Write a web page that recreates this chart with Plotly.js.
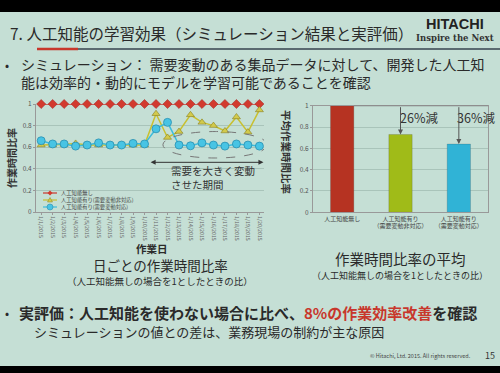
<!DOCTYPE html>
<html><head><meta charset="utf-8">
<script src="https://cdn.plot.ly/plotly-3.0.1.min.js"></script>
<style>html,body{margin:0;padding:0;background:#000}#chart{width:500px;height:373px}</style>
</head><body><div id="chart"></div>
<script>
// ---- data ----
const dates = ['1/1/2015','1/2/2015','1/3/2015','1/4/2015','1/5/2015','1/6/2015','1/7/2015','1/8/2015','1/9/2015','1/10/2015',
  '1/11/2015','1/12/2015','1/13/2015','1/14/2015','1/15/2015','1/16/2015','1/17/2015','1/18/2015','1/19/2015','1/20/2015'];
const seriesNames = ['人工知能無し','人工知能有り(需要変動非対応)','人工知能有り(需要変動対応)'];
const noAI = [1,1,1,1,1,1,1,1,1,1,1,1,1,1,1,1,1,1,1,1];
const aiNonAdaptive = [0.62,0.62,0.625,0.635,0.62,0.62,0.62,0.62,0.62,0.62,0.91,0.69,0.745,0.90,0.83,0.80,0.75,0.88,0.74,0.945];
const aiAdaptive = [0.66,0.63,0.63,0.61,0.62,0.64,0.62,0.62,0.635,0.63,0.77,0.83,0.62,0.613,0.64,0.62,0.61,0.63,0.62,0.61];
const barCats = ['人工知能無し','人工知能有り<br>（需要変動非対応）','人工知能有り<br>（需要変動対応）'];
const barVals = [1.0, 0.73, 0.64];
const reductionLabels = ['26%減','36%減'];
const yTicks = [0,0.2,0.4,0.6,0.8,1];
const yTickText = ['0','0.2','0.4','0.6','0.8','1'];

// ---- helpers ----
const W = 500, H = 373;
const px = x => x / W;
const py = y => (H - y) / H;
const FONT = '"Noto Sans CJK JP", "Noto Sans", sans-serif';
const BG = '#c5dfd5';

const traces = [
  {x: dates, y: noAI, name: seriesNames[0], type: 'scatter', mode: 'lines+markers', xaxis: 'x', yaxis: 'y',
   line: {color: '#c8382e', width: 1.5}, marker: {symbol: 'diamond', size: 7, color: '#d23a2e', line: {color: '#a02020', width: 0.5}}, cliponaxis: false},
  {x: dates, y: aiNonAdaptive, name: seriesNames[1], type: 'scatter', mode: 'lines+markers', xaxis: 'x', yaxis: 'y',
   line: {color: '#c8c030', width: 1.5}, marker: {symbol: 'triangle-up', size: 7, color: '#d2ca4c', line: {color: '#8a8020', width: 0.6}}, cliponaxis: false},
  {x: dates, y: aiAdaptive, name: seriesNames[2], type: 'scatter', mode: 'lines+markers', xaxis: 'x', yaxis: 'y',
   line: {color: '#3cbcdc', width: 1.5}, marker: {symbol: 'circle', size: 8, color: '#48c4e4', line: {color: '#2a8fb0', width: 0.8}}, cliponaxis: false},
  {x: barCats, y: barVals, type: 'bar', xaxis: 'x2', yaxis: 'y2', width: 0.4, showlegend: false,
   marker: {color: ['#b63322', '#a0bb18', '#30b3d6'], line: {color: 'rgba(60,60,60,0.4)', width: 0.5}}}
];

const annotations = [];
function A(text, x, y, size, o) {
  annotations.push(Object.assign({text: text, x: px(x), y: py(y), xref: 'paper', yref: 'paper', showarrow: false,
    xanchor: 'left', yanchor: 'middle', borderpad: 0, font: {family: FONT, size: size, color: '#2a2a2a'}}, o || {}));
}
// header
A('7. 人工知能の学習効果（シミュレーション結果と実評価）', 9, 33, 15.5);
A('<b>HITACHI</b>', 455, 24, 14, {xanchor: 'center', font: {family: '"Liberation Sans", Arial, sans-serif', size: 14.5, color: '#222'}});
A('<b>Inspire the Next</b>', 455, 38, 9, {xanchor: 'center', font: {family: '"DejaVu Serif", serif', size: 8.5, color: '#333'}});
// bullets
A('•', 4, 64, 12);
A('シミュレーション： 需要変動のある集品データに対して、開発した人工知', 20, 64, 14);
A('能は効率的・動的にモデルを学習可能であることを確認', 20, 82, 14);
// left chart labels
A('<b>作業時間比率</b>', 12, 158, 10, {xanchor: 'center', textangle: -90, font: {family: FONT, size: 10, color: '#333'}});
A('<b>作業日</b>', 152, 248, 10.5, {xanchor: 'center'});
A('日ごとの作業時間比率', 160, 265, 13.5, {xanchor: 'center'});
A('（人工知能無しの場合を1としたときの比）', 160, 281, 9.5, {xanchor: 'center'});
A('需要を大きく変動<br>させた期間', 170, 177, 10.5, {align: 'left', font: {family: FONT, size: 10.5, color: '#333'}});
// legend (manual)
const legY = [193, 200, 207];
A(seriesNames.join('<br>'), 60, 200, 5.3, {align: 'left', font: {family: FONT, size: 5.3, color: '#444'}});
// right chart labels
A('<b>平均作業時間比率</b>', 287, 152, 10.5, {xanchor: 'center', textangle: 90, font: {family: FONT, size: 10.5, color: '#333'}});
A('作業時間比率の平均', 400, 258, 14.5, {xanchor: 'center'});
A('（人工知能無しの場合を1としたときの比）', 400, 275, 9, {xanchor: 'center'});
A(reductionLabels[0], 399, 117, 12.5, {font: {family: FONT, size: 12.5, color: '#333'}});
A(reductionLabels[1], 456, 117, 12.5, {font: {family: FONT, size: 12.5, color: '#333'}});
// bottom
A('•', 4, 312, 12);
A('<b>実評価：人工知能を使わない場合に比べ、<span style="color:#c8372c">8%の作業効率改善</span>を確認</b>', 18, 312, 15);
A('シミュレーションの値との差は、業務現場の制約が主な原因', 33, 331, 13);
A('© Hitachi, Ltd. 2015. All rights reserved.', 472, 356, 5.5, {xanchor: 'right', font: {family: FONT, size: 5.5, color: '#444'}});
A('15', 484, 355, 9, {font: {family: FONT, size: 9, color: '#333'}});

// data-coordinate annotations: arrows
annotations.push({x: 19.35, y: 0.46, ax: 9.4, ay: 0.46, xref: 'x', yref: 'y', axref: 'x', ayref: 'y', text: '', showarrow: true,
  arrowhead: 2, startarrowhead: 2, arrowside: 'end+start', arrowsize: 1, arrowwidth: 1, arrowcolor: '#333'});
annotations.push({x: barCats[1], y: barVals[1], ax: barCats[1], ay: 1, xref: 'x2', yref: 'y2', axref: 'x2', ayref: 'y2', text: '', showarrow: true,
  arrowhead: 2, arrowsize: 1, arrowwidth: 1, arrowcolor: '#555'});
annotations.push({x: barCats[2], y: barVals[2], ax: barCats[2], ay: 1, xref: 'x2', yref: 'y2', axref: 'x2', ayref: 'y2', text: '', showarrow: true,
  arrowhead: 2, arrowsize: 1, arrowwidth: 1, arrowcolor: '#555'});

const shapes = [
  {type: 'rect', xref: 'paper', yref: 'paper', x0: 0, x1: 1, y0: py(366), y1: py(12), fillcolor: BG, line: {width: 0}, layer: 'below'},
  {type: 'line', xref: 'paper', yref: 'paper', x0: px(37), x1: 1, y0: py(49), y1: py(49), line: {color: '#5a6a70', width: 2}},
  {type: 'line', xref: 'paper', yref: 'paper', x0: px(37), x1: px(78), y0: py(49), y1: py(49), line: {color: '#c8372c', width: 2.5}},
  {type: 'circle', xref: 'x', yref: 'y', x0: 10.6, x1: 19.7, y0: 0.5, y1: 0.745, line: {color: '#777', width: 1, dash: 'dash'}},
  {type: 'line', xref: 'x2', yref: 'y2', x0: 0.2, x1: 2.5, y0: 1, y1: 1, line: {color: '#666', width: 1}},
];
const legCol = ['#c8382e', '#c8c030', '#3cbcdc'];
for (let i = 0; i < 3; i++) {
  shapes.push({type: 'line', xref: 'paper', yref: 'paper', x0: px(43), x1: px(57), y0: py(legY[i]), y1: py(legY[i]), line: {color: legCol[i], width: 1.2}});
}
shapes.push({type: 'path', xref: 'paper', yref: 'paper',
  path: `M ${px(50)},${py(190.5)} L ${px(52.5)},${py(193)} L ${px(50)},${py(195.5)} L ${px(47.5)},${py(193)} Z`, fillcolor: '#d23a2e', line: {width: 0}});
shapes.push({type: 'path', xref: 'paper', yref: 'paper',
  path: `M ${px(50)},${py(197.5)} L ${px(52.5)},${py(202)} L ${px(47.5)},${py(202)} Z`, fillcolor: '#d2ca4c', line: {color: '#8a8020', width: 0.5}});
shapes.push({type: 'circle', xref: 'paper', yref: 'paper', x0: px(47), x1: px(53), y0: py(210), y1: py(204), fillcolor: '#48c4e4', line: {color: '#2a8fb0', width: 0.6}});

const axFont = {family: FONT, size: 6.5, color: '#555'};
const layout = {
  width: W, height: H, autosize: false,
  margin: {l: 0, r: 0, t: 0, b: 0, pad: 0},
  paper_bgcolor: '#000', plot_bgcolor: 'rgba(0,0,0,0)',
  showlegend: false,
  font: {family: FONT},
  xaxis: {domain: [px(36), px(264)], anchor: 'y', type: 'category', range: [-0.45, 19.4], tickangle: 90,
    tickfont: {family: FONT, size: 5.3, color: '#666'}, showgrid: false, showline: true, linecolor: '#999', linewidth: 1, ticks: 'outside', ticklen: 2, tickcolor: '#999', zeroline: false},
  yaxis: {domain: [py(212), py(104)], anchor: 'x', range: [0, 1], tickvals: yTicks, ticktext: yTickText, tickfont: axFont,
    showgrid: true, gridcolor: '#a9c4ba', gridwidth: 1, showline: true, linecolor: '#999', ticks: 'outside', ticklen: 2, tickcolor: '#999', zeroline: false},
  xaxis2: {domain: [px(313), px(488)], anchor: 'y2', type: 'category', range: [-0.5, 2.5], tickfont: {family: FONT, size: 6, color: '#444'},
    showgrid: false, showline: true, linecolor: '#999', mirror: true, zeroline: false},
  yaxis2: {domain: [py(212.3), py(105.7)], anchor: 'x2', range: [0, 1], tickvals: yTicks, ticktext: yTickText, tickfont: axFont,
    showgrid: true, gridcolor: '#a9c4ba', showline: true, linecolor: '#999', mirror: true, ticks: 'outside', ticklen: 2, tickcolor: '#999', zeroline: false},
  shapes: shapes,
  annotations: annotations
};
Plotly.newPlot('chart', traces, layout, {displayModeBar: false, staticPlot: true});
</script></body></html>
